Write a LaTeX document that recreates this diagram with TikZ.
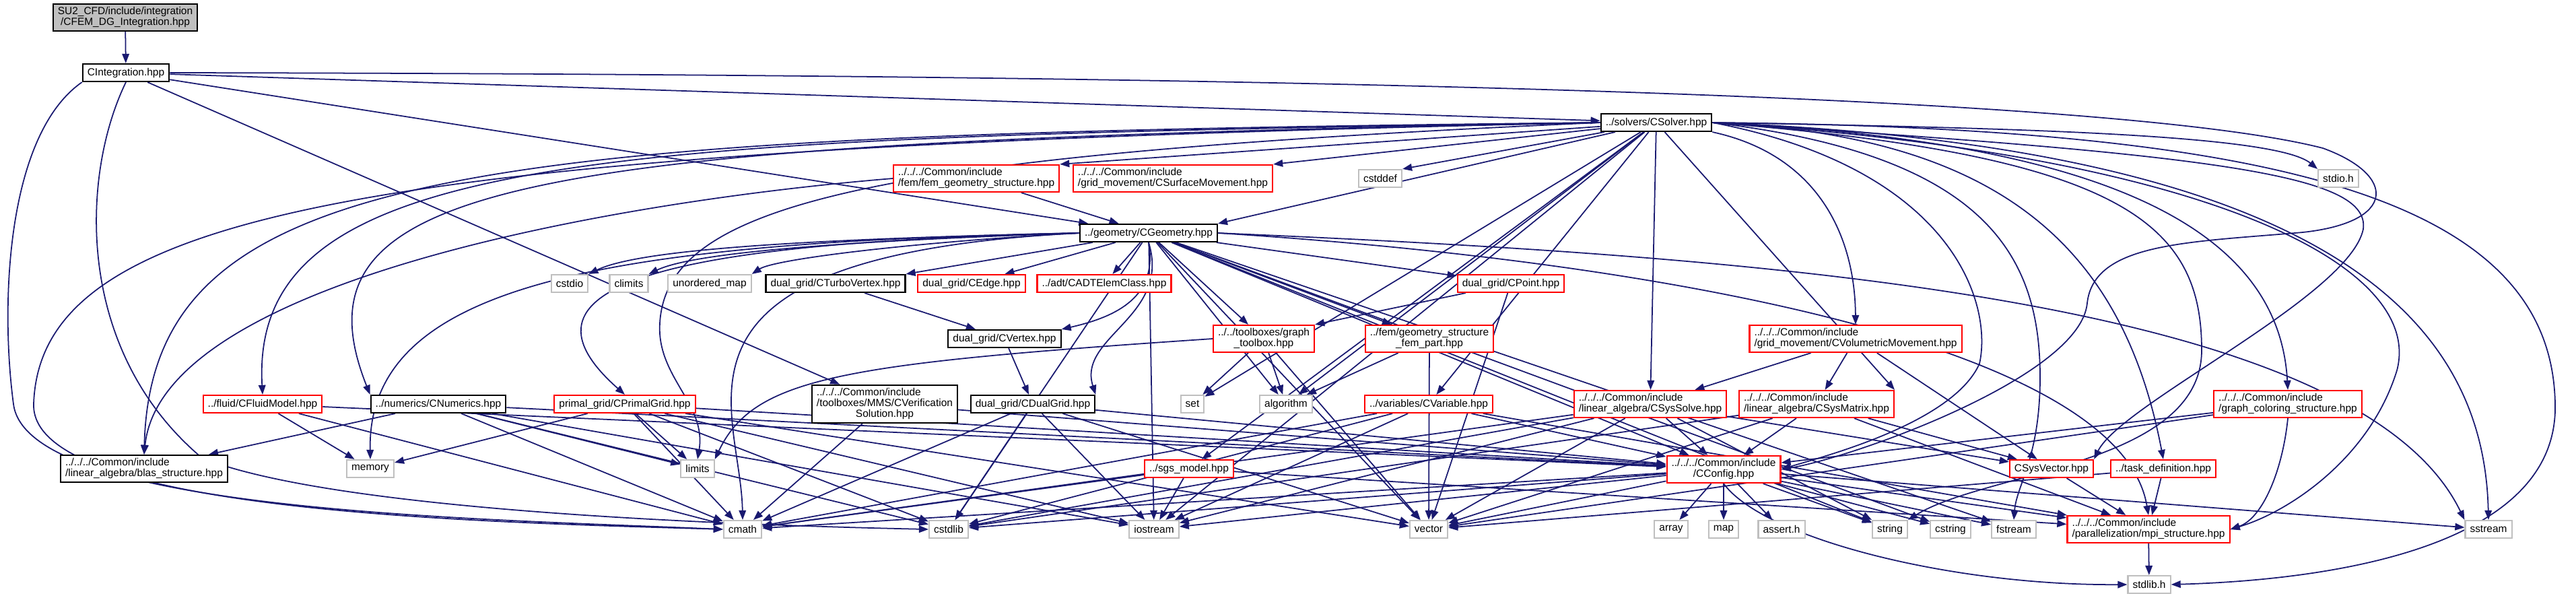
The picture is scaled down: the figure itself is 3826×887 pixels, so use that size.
\documentclass[tikz,border=0pt]{standalone}
\usepackage{fontspec}
\setmainfont{Liberation Sans}
\usetikzlibrary{arrows.meta}

\definecolor{depblue}{HTML}{191970}
\definecolor{incred}{HTML}{FF0000}
\definecolor{sysgray}{HTML}{BFBFBF}

\pgfdeclarelayer{edges}
\pgfsetlayers{edges,main}

% label font and two/three line labels (first line left, last centred)
\newcommand{\dox}{\fontsize{4.4pt}{4.6pt}\selectfont}
\newcommand{\twolab}[2]{\begin{tabular}{@{}l@{}}#1\\\multicolumn{1}{@{}c@{}}{#2}\end{tabular}}
\newcommand{\threelab}[3]{\begin{tabular}{@{}l@{}}#1\\#2\\\multicolumn{1}{@{}c@{}}{#3}\end{tabular}}

\begin{document}
\begin{tikzpicture}[x=0.01cm, y=-0.01cm,
    file/.style={draw=black, fill=white, line width=0.6pt, font=\dox,
                 inner xsep=2pt, inner ysep=1.1pt, minimum height=0.26cm},
    redfile/.style={file, draw=incred},
    sysfile/.style={file, draw=sysgray},
    rootfile/.style={file, fill=sysgray},
    dep/.style={draw=depblue, line width=0.5pt, -{Triangle[length=4pt, width=3pt]}}]

    \useasboundingbox (0,0) rectangle (3826,887);

    % --- FILES ---
    \node[rootfile] (root) at (186,26) {\twolab{SU2\_CFD/include/integration}{/CFEM\_DG\_Integration.hpp}};
    \node[file] (cint) at (187,108) {CIntegration.hpp};
    \node[file] (solver) at (2460,182) {../solvers/CSolver.hpp};

    \node[redfile] (femgeo) at (1450,265) {\twolab{../../../Common/include}{/fem/fem\_geometry\_structure.hpp}};
    \node[redfile] (surfmov) at (1742,265) {\twolab{../../../Common/include}{/grid\_movement/CSurfaceMovement.hpp}};
    \node[sysfile] (cstddef) at (2050,265) {cstddef};
    \node[sysfile] (stdioh) at (3473,265) {stdio.h};

    \node[file] (geom) at (1706,346) {../geometry/CGeometry.hpp};

    \node[sysfile] (cstdio) at (846,421) {cstdio};
    \node[sysfile] (climits) at (934,421) {climits};
    \node[sysfile] (umap) at (1054,421) {unordered\_map};
    \node[file] (turbo) at (1241,421) {dual\_grid/CTurboVertex.hpp};
    \node[redfile] (edge) at (1443,421) {dual\_grid/CEdge.hpp};
    \node[redfile] (adt) at (1640,421) {../adt/CADTElemClass.hpp};
    \node[redfile] (point) at (2244,421) {dual\_grid/CPoint.hpp};

    \node[file] (vertex) at (1492,503) {dual\_grid/CVertex.hpp};
    \node[redfile] (graphtb) at (1877,503) {\twolab{../../toolboxes/graph}{\_toolbox.hpp}};
    \node[redfile] (fempart) at (2123,503) {\twolab{../fem/geometry\_structure}{\_fem\_part.hpp}};
    \node[redfile] (volmov) at (2756,503) {\twolab{../../../Common/include}{/grid\_movement/CVolumetricMovement.hpp}};

    \node[redfile] (fluid) at (390,600) {../fluid/CFluidModel.hpp};
    \node[file] (numerics) at (651,600) {../numerics/CNumerics.hpp};
    \node[redfile] (primal) at (928,600) {primal\_grid/CPrimalGrid.hpp};
    \node[file] (verif) at (1314,600) {\threelab{../../../Common/include}{/toolboxes/MMS/CVerification}{Solution.hpp}};
    \node[file] (dualgrid) at (1534,600) {dual\_grid/CDualGrid.hpp};
    \node[sysfile] (set) at (1771,600) {set};
    \node[sysfile] (algorithm) at (1910,600) {algorithm};
    \node[redfile] (variable) at (2122,600) {../variables/CVariable.hpp};
    \node[redfile] (syssolve) at (2451,600) {\twolab{../../../Common/include}{/linear\_algebra/CSysSolve.hpp}};
    \node[redfile] (sysmatrix) at (2698,600) {\twolab{../../../Common/include}{/linear\_algebra/CSysMatrix.hpp}};
    \node[redfile] (graphcol) at (3398,600) {\twolab{../../../Common/include}{/graph\_coloring\_structure.hpp}};

    \node[file] (blas) at (214,696) {\twolab{../../../Common/include}{/linear\_algebra/blas\_structure.hpp}};
    \node[sysfile] (memory) at (550,696) {memory};
    \node[sysfile] (limits) at (1036,696) {limits};
    \node[redfile] (sgs) at (1766,696) {../sgs\_model.hpp};
    \node[redfile] (config) at (2560,697) {\twolab{../../../Common/include}{/CConfig.hpp}};
    \node[redfile] (sysvector) at (3047,696) {CSysVector.hpp};
    \node[redfile] (taskdef) at (3213,696) {../task\_definition.hpp};

    \node[sysfile] (cmath) at (1103,786) {cmath};
    \node[sysfile] (cstdlib) at (1409,786) {cstdlib};
    \node[sysfile] (iostream) at (1714,786) {iostream};
    \node[sysfile] (vector) at (2122,786) {vector};
    \node[sysfile] (array) at (2482,786) {array};
    \node[sysfile] (map) at (2560,786) {map};
    \node[sysfile] (asserth) at (2646,786) {assert.h};
    \node[sysfile] (string) at (2807,786) {string};
    \node[sysfile] (cstring) at (2897,786) {cstring};
    \node[sysfile] (fstream) at (2991,786) {fstream};
    \node[redfile] (mpi) at (3191,786) {\twolab{../../../Common/include}{/parallelization/mpi\_structure.hpp}};
    \node[sysfile] (sstream) at (3696,786) {sstream};

    \node[sysfile] (stdlibh) at (3192,868) {stdlib.h};

    \begin{pgfonlayer}{edges}
    % --- TOP FILES ---
    \draw[dep] (root) -- (cint);
    \draw[dep] (cint) -- (solver);
    \draw[dep] (cint) -- (geom);
    \draw[dep] (cint) -- (verif);
    \draw[dep] (cint.south west) .. controls (10,200) and (0,450) .. (20,600) .. controls (40,760) and (700,770) .. (cmath.west);
    \draw[dep] (cint.south) .. controls (120,260) and (110,520) .. (300,680) .. controls (500,760) and (1100,780) .. (cstdlib.west);
    \draw[dep] (cint.east) .. controls (1600,110) and (3100,130) .. (3450,220) .. controls (3560,260) and (3560,330) .. (3420,345) .. controls (3250,360) and (3110,360) .. (3100,450) .. controls (3090,560) and (2750,680) .. (config.east);

    % --- CSolver, left and below ---
    \draw[dep] (solver) -- (femgeo.north east);
    \draw[dep] (solver) -- (surfmov.north east);
    \draw[dep] (solver) -- (cstddef.north east);
    \draw[dep] (solver) -- (geom.north east);
    \draw[dep] (solver.west) .. controls (900,205) and (370,220) .. (fluid.north);
    \draw[dep] (solver.west) .. controls (800,212) and (420,260) .. (numerics.north west);
    \draw[dep] (solver.west) .. controls (700,200) and (225,240) .. (blas.north);
    \draw[dep] (solver.west) .. controls (600,220) and (60,300) .. (50,600) .. controls (45,760) and (700,775) .. (cmath.west);
    \draw[dep] (solver.west) .. controls (1300,230) and (990,300) .. (980,480) .. controls (975,560) and (1050,600) .. (limits.north);
    \draw[dep] (solver) -- (set);
    \draw[dep] (solver) -- (algorithm);
    \draw[dep] (solver) -- (variable);
    \draw[dep] (solver) -- (sgs);
    \draw[dep] (solver) -- (iostream);
    \draw[dep] (solver) -- (syssolve);
    \draw[dep] (solver) -- (sysmatrix.north east);
    \draw[dep] (solver.south east) .. controls (2700,230) and (2755,350) .. (volmov.north);

    % --- CSolver, right side ---
    \draw[dep] (solver.east) .. controls (3000,190) and (3380,200) .. (stdioh.north west);
    \draw[dep] (solver.east) .. controls (3500,220) and (3690,500) .. (sstream.north);
    \draw[dep] (solver.east) .. controls (3400,190) and (3790,300) .. (3795,600) .. controls (3800,800) and (3500,860) .. (stdlibh.east);
    \draw[dep] (solver.east) .. controls (2900,250) and (2960,450) .. (2940,540) .. controls (2900,630) and (2700,680) .. (config.east);
    \draw[dep] (solver.east) .. controls (2950,230) and (3030,380) .. (3030,560) .. controls (3030,680) and (2995,720) .. (fstream.north);
    \draw[dep] (solver.east) .. controls (2950,200) and (3150,350) .. (taskdef.north);
    \draw[dep] (solver.east) .. controls (3150,230) and (3270,330) .. (3270,520) .. controls (3270,690) and (2950,700) .. (string.north east);
    \draw[dep] (solver.east) .. controls (3150,210) and (3385,350) .. (graphcol.north);
    \draw[dep] (solver.east) .. controls (3300,230) and (3520,260) .. (3510,340) .. controls (3490,440) and (3150,600) .. (sysvector.north east);
    \draw[dep] (solver.east) .. controls (3300,230) and (3600,400) .. (3560,550) .. controls (3520,680) and (3400,760) .. (mpi.east);

    % --- CGeometry ---
    \draw[dep] (femgeo) -- (geom);
    \draw[dep] (femgeo.west) .. controls (900,300) and (240,420) .. (blas.north);
    \draw[dep] (geom.west) .. controls (1200,355) and (950,370) .. (cstdio.north east);
    \draw[dep] (geom.west) .. controls (1250,358) and (1030,375) .. (climits.north east);
    \draw[dep] (geom.west) .. controls (1350,360) and (1150,385) .. (umap.north east);
    \draw[dep] (geom.west) .. controls (1000,360) and (740,420) .. (primal.north);
    \draw[dep] (geom.west) .. controls (900,360) and (545,420) .. (memory.north);
    \draw[dep] (geom.west) .. controls (950,380) and (1100,600) .. (cmath.north);
    \draw[dep] (geom) -- (turbo.north east);
    \draw[dep] (geom) -- (edge);
    \draw[dep] (geom) -- (adt);
    \draw[dep] (geom) -- (point);
    \draw[dep] (geom) -- (graphtb);
    \draw[dep] (geom) -- (fempart);
    \draw[dep] (geom.south) .. controls (1720,440) and (1660,470) .. (vertex.north east);
    \draw[dep] (geom.south) .. controls (1740,470) and (1600,500) .. (dualgrid.north east);
    \draw[dep] (geom) -- (algorithm);
    \draw[dep] (geom) -- (cstdlib);
    \draw[dep] (geom) -- (iostream);
    \draw[dep] (geom) -- (vector);
    \draw[dep] (geom) -- (config);
    \draw[dep] (geom) -- (string);
    \draw[dep] (geom) -- (cstring);
    \draw[dep] (geom) -- (fstream);
    \draw[dep] (geom.east) .. controls (2500,390) and (3150,520) .. (mpi.north);
    \draw[dep] (geom.east) .. controls (2600,380) and (3500,440) .. (sstream.north west);

    % --- GRID PARTS ---
    \draw[dep] (turbo) -- (vertex);
    \draw[dep] (vertex) -- (dualgrid);
    \draw[dep] (point) -- (graphtb.north east);
    \draw[dep] (point) -- (vector);
    \draw[dep] (graphtb) -- (set);
    \draw[dep] (graphtb) -- (algorithm);
    \draw[dep] (graphtb) -- (vector);
    \draw[dep] (graphtb.west) .. controls (1250,540) and (1120,560) .. (limits.north east);
    \draw[dep] (fempart) -- (algorithm);
    \draw[dep] (fempart) -- (vector);
    \draw[dep] (volmov) -- (syssolve);
    \draw[dep] (volmov) -- (sysmatrix);
    \draw[dep] (volmov) -- (sysvector);

    % --- SOLVER PARTS ---
    \draw[dep] (fluid) -- (memory);
    \draw[dep] (fluid) -- (cmath);
    \draw[dep] (fluid) -- (config);
    \draw[dep] (numerics) -- (blas);
    \draw[dep] (numerics) -- (cmath);
    \draw[dep] (numerics) -- (iostream);
    \draw[dep] (numerics) -- (cstdlib);
    \draw[dep] (numerics) -- (limits);
    \draw[dep] (numerics) -- (config);
    \draw[dep] (primal) -- (memory);
    \draw[dep] (primal) -- (limits);
    \draw[dep] (primal) -- (cmath);
    \draw[dep] (primal) -- (iostream);
    \draw[dep] (primal) -- (cstdlib);
    \draw[dep] (primal) -- (vector);
    \draw[dep] (primal) -- (config);
    \draw[dep] (verif) -- (cmath);
    \draw[dep] (verif) -- (config);
    \draw[dep] (dualgrid) -- (cmath);
    \draw[dep] (dualgrid) -- (cstdlib);
    \draw[dep] (dualgrid) -- (iostream);
    \draw[dep] (dualgrid) -- (vector);
    \draw[dep] (dualgrid) -- (config);
    \draw[dep] (variable) -- (cmath);
    \draw[dep] (variable) -- (cstdlib);
    \draw[dep] (variable) -- (iostream);
    \draw[dep] (variable) -- (config);
    \draw[dep] (variable) -- (mpi);
    \draw[dep] (syssolve) -- (cmath);
    \draw[dep] (syssolve) -- (cstdlib);
    \draw[dep] (syssolve) -- (iostream);
    \draw[dep] (syssolve) -- (vector);
    \draw[dep] (syssolve) -- (string);
    \draw[dep] (syssolve) -- (sysvector);
    \draw[dep] (syssolve) -- (config);
    \draw[dep] (sysmatrix) -- (config);
    \draw[dep] (sysmatrix) -- (sysvector);
    \draw[dep] (sysmatrix) -- (vector);
    \draw[dep] (sysmatrix) -- (cstdlib);
    \draw[dep] (sysmatrix) -- (mpi);
    \draw[dep] (graphcol) -- (config);
    \draw[dep] (graphcol.south) .. controls (3390,700) and (3360,770) .. (mpi.east);
    \draw[dep] (graphcol) -- (vector);
    \draw[dep] (sgs) -- (iostream);
    \draw[dep] (sgs) -- (cmath);
    \draw[dep] (sgs) -- (mpi);
    \draw[dep] (sysvector) -- (mpi);
    \draw[dep] (taskdef) -- (mpi);
    \draw[dep] (taskdef) -- (vector);

    % --- CConfig ---
    \draw[dep] (config) -- (array);
    \draw[dep] (config) -- (map);
    \draw[dep] (config) -- (asserth);
    \draw[dep] (config) -- (string);
    \draw[dep] (config) -- (cstring);
    \draw[dep] (config) -- (fstream);
    \draw[dep] (config) -- (mpi);
    \draw[dep] (config) -- (sstream);
    \draw[dep] (config) -- (cmath);
    \draw[dep] (config) -- (cstdlib);
    \draw[dep] (config) -- (iostream);
    \draw[dep] (config) -- (vector);
    \draw[dep] (config.south) .. controls (2620,800) and (2900,870) .. (stdlibh.west);
    \draw[dep] (mpi) -- (stdlibh);
    \end{pgfonlayer}
\end{tikzpicture}
\end{document}
